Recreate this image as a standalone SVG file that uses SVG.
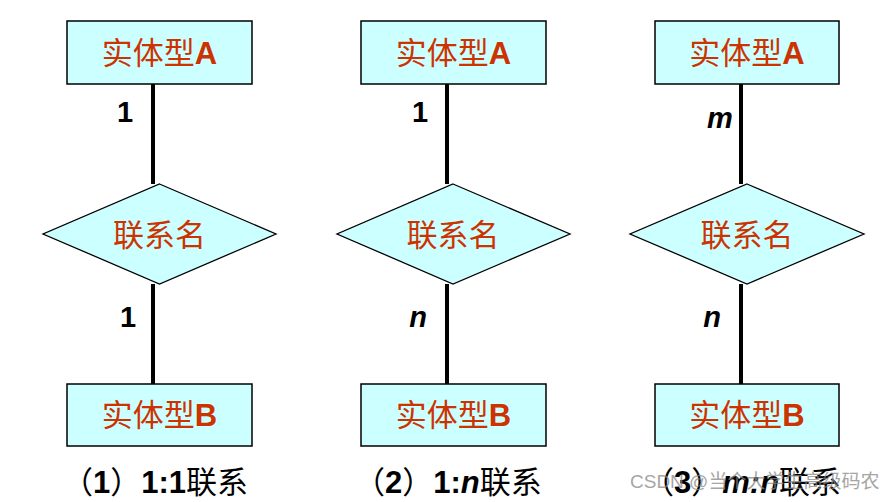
<svg xmlns="http://www.w3.org/2000/svg" width="896" height="502" viewBox="0 0 896 502">
<style>
.ent{fill:#CCFFFF;stroke:#000;stroke-width:1.5}
.rel{fill:#CCFFFF;stroke:#000;stroke-width:1.3}
.lbl{font-family:"Noto Sans CJK SC","Liberation Sans",sans-serif;font-size:31px;fill:#CC3300;text-anchor:middle}
.lat{font-family:"Liberation Sans",Arial,sans-serif;font-weight:bold}
.card{font-family:"Liberation Sans",Arial,sans-serif;font-weight:bold;font-size:29px;fill:#000;text-anchor:middle}
.cap{font-family:"Noto Sans CJK SC","Liberation Sans",sans-serif;font-size:31px;fill:#000}
.conn{stroke:#000;stroke-width:4;fill:none}
.wm{font-family:"Liberation Sans","Noto Sans CJK SC",sans-serif;font-size:19px;fill:#888;opacity:0.75}
</style>
<rect width="896" height="502" fill="#fff"/>
<g id="connectors">
<line class="conn" x1="153" y1="84" x2="153" y2="184"/>
<line class="conn" x1="153" y1="284" x2="153" y2="384"/>
<line class="conn" x1="447" y1="84" x2="447" y2="184"/>
<line class="conn" x1="447" y1="284" x2="447" y2="384"/>
<line class="conn" x1="741" y1="84" x2="741" y2="184"/>
<line class="conn" x1="741" y1="284" x2="741" y2="384"/>
</g>
<g id="p1-entA"><rect class="ent" x="67" y="21" width="185" height="63"/><text class="lbl" x="159.5" y="64">实体型<tspan class="lat">A</tspan></text></g>
<g id="p1-rel"><polygon class="rel" points="159.5,184 276,234 159.5,284 43,234"/><text class="lbl" x="159.5" y="246">联系名</text></g>
<g id="p1-entB"><rect class="ent" x="67" y="384" width="185" height="62"/><text class="lbl" x="159.5" y="426">实体型<tspan class="lat">B</tspan></text></g>
<g id="p2-entA"><rect class="ent" x="361" y="21" width="185" height="63"/><text class="lbl" x="453.5" y="64">实体型<tspan class="lat">A</tspan></text></g>
<g id="p2-rel"><polygon class="rel" points="453,184 570,234 453,284 337,234"/><text class="lbl" x="453" y="246">联系名</text></g>
<g id="p2-entB"><rect class="ent" x="361" y="384" width="185" height="62"/><text class="lbl" x="453.5" y="426">实体型<tspan class="lat">B</tspan></text></g>
<g id="p3-entA"><rect class="ent" x="655" y="21" width="184" height="63"/><text class="lbl" x="747" y="64">实体型<tspan class="lat">A</tspan></text></g>
<g id="p3-rel"><polygon class="rel" points="747,184 864,234 747,284 630,234"/><text class="lbl" x="747" y="246">联系名</text></g>
<g id="p3-entB"><rect class="ent" x="655" y="384" width="184" height="62"/><text class="lbl" x="747" y="426">实体型<tspan class="lat">B</tspan></text></g>
<g id="cardinalities">
<text class="card" x="125" y="122">1</text>
<text class="card" x="128" y="327">1</text>
<text class="card" x="420" y="122">1</text>
<text class="card" x="418" y="327" font-style="italic">n</text>
<text class="card" x="720" y="128" font-style="italic">m</text>
<text class="card" x="712" y="327" font-style="italic">n</text>
</g>
<g id="captions">
<text class="cap" x="62" y="493">（<tspan class="lat">1</tspan>）<tspan class="lat">1:1</tspan>联系</text>
<text class="cap" x="354" y="493">（<tspan class="lat">2</tspan>）<tspan class="lat">1:</tspan><tspan class="lat" font-style="italic">n</tspan>联系</text>
<text class="cap" x="643" y="493">（<tspan class="lat">3</tspan>）<tspan class="lat" font-style="italic">m:n</tspan>联系</text>
</g>
<text class="wm" x="630" y="488">CSDN @当个大学生高级码农</text>
</svg>
